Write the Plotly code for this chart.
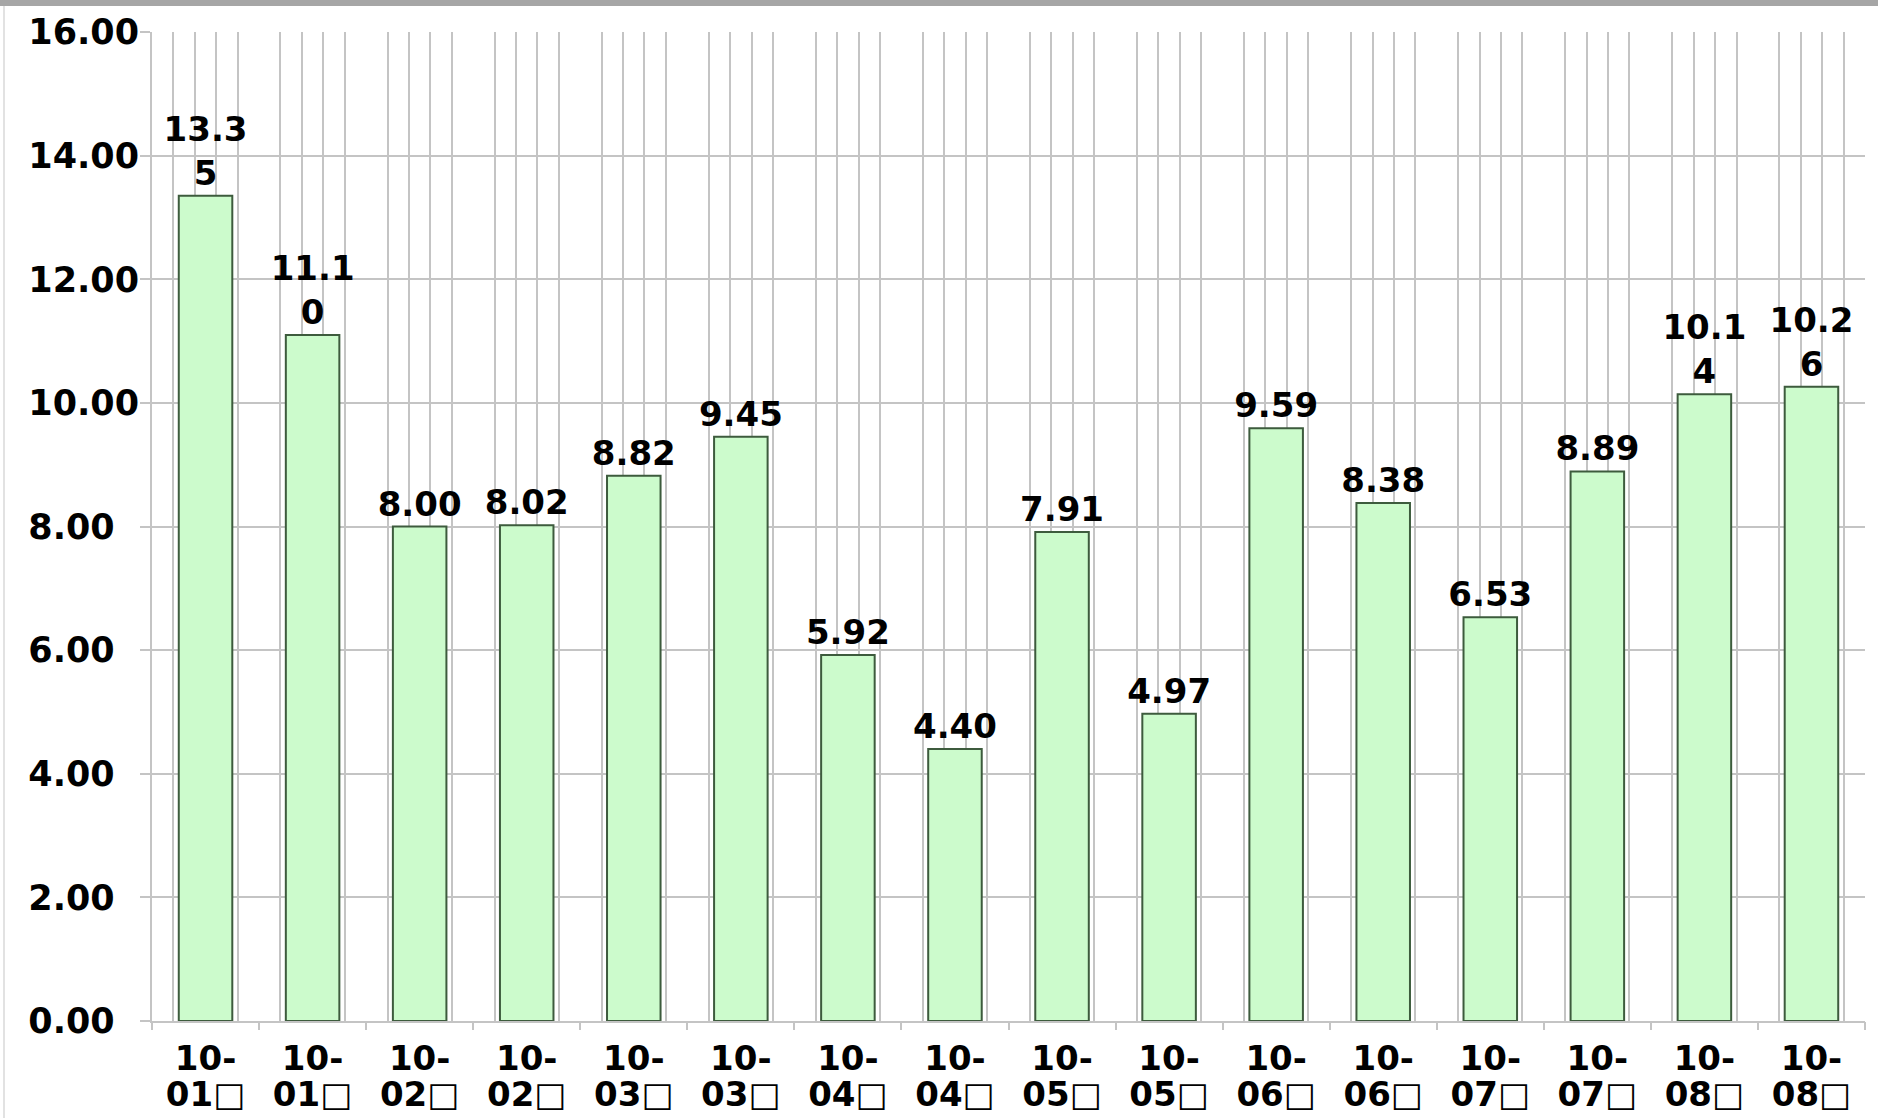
import plotly.graph_objects as go

# ---- data ----
categories = ["10-01□", "10-01□", "10-02□", "10-02□", "10-03□", "10-03□",
              "10-04□", "10-04□", "10-05□", "10-05□", "10-06□", "10-06□",
              "10-07□", "10-07□", "10-08□", "10-08□"]
values = [13.35, 11.10, 8.00, 8.02, 8.82, 9.45, 5.92, 4.40,
          7.91, 4.97, 9.59, 8.38, 6.53, 8.89, 10.14, 10.26]
y_ticks = [0, 2, 4, 6, 8, 10, 12, 14, 16]

# ---- derived text ----
def wrap_value(v):
    s = f"{v:.2f}"
    return s if len(s) <= 4 else s[:4] + "<br>" + s[4:]

bar_text = [wrap_value(v) for v in values]
x_line1 = [c.split("-")[0] + "-" for c in categories]
x_line2 = [c.split("-")[1] for c in categories]
y_ticktext = [f"{t:.2f}".ljust(5, "\u2007") for t in y_ticks]
xpos = list(range(len(categories)))

W, H = 1878, 1118
ML, MR, MT, MB = 152, 13, 32, 97
PW, PH = W - ML - MR, H - MT - MB

GRID = "#c4c4c4"
FONT = dict(family="DejaVu Sans", size=34, color="black", weight="bold")
YFONT = dict(family="DejaVu Sans", size=35, color="black", weight="bold")
xrange_ = [-0.5, len(categories) - 0.5]

fig = go.Figure()
fig.add_trace(go.Bar(
    x=xpos, y=values, text=bar_text, textposition="outside",
    textfont=FONT, constraintext="none", cliponaxis=False,
    marker=dict(color="#ccfbcc", line=dict(color="#3d5b3d", width=2)),
    hoverinfo="skip",
))
fig.add_trace(go.Scatter(x=[], y=[], xaxis="x2", yaxis="y", showlegend=False))
fig.add_trace(go.Scatter(x=[], y=[], xaxis="x3", yaxis="y", showlegend=False))

fig.update_layout(
    width=W, height=H,
    margin=dict(l=ML, r=MR, t=MT, b=MB, autoexpand=False),
    paper_bgcolor="white", plot_bgcolor="white",
    showlegend=False, bargap=0.5,
    xaxis=dict(range=xrange_, tickvals=xpos, ticktext=x_line1,
               showgrid=False, zeroline=False, ticks="", tickfont=FONT,
               ticklabelstandoff=6,
               showline=True, linecolor=GRID, linewidth=2, automargin=False),
    xaxis3=dict(overlaying="x", anchor="y", side="bottom",
                range=xrange_, tickvals=xpos, ticktext=x_line2,
                showgrid=False, zeroline=False, ticks="", tickfont=FONT,
                ticklabelstandoff=50, showline=False, automargin=False),
    xaxis2=dict(overlaying="x", anchor="y", side="bottom",
                range=[0, len(categories)], tick0=0, dtick=1,
                ticks="outside", ticklen=8, tickwidth=2, tickcolor=GRID,
                showticklabels=False, showgrid=False, zeroline=False,
                minor=dict(dtick=0.2, showgrid=True, gridcolor=GRID, gridwidth=2, ticks="")),
    yaxis=dict(range=[0, 16], tickvals=y_ticks, ticktext=y_ticktext,
               showgrid=True, gridcolor=GRID, gridwidth=2,
               ticks="outside", ticklen=10, tickwidth=2, tickcolor=GRID,
               ticklabelstandoff=-6,
               showline=True, linecolor=GRID, linewidth=2, zeroline=False,
               tickfont=YFONT, automargin=False),
    shapes=[
        dict(type="rect", xref="paper", yref="paper",
             x0=-ML / PW, x1=1 + MR / PW, y0=1 + (MT - 6) / PH, y1=1 + MT / PH,
             fillcolor="#a6a6a6", line=dict(width=0), layer="above"),
        dict(type="line", xref="paper", yref="paper",
             x0=(4 - ML) / PW, x1=(4 - ML) / PW, y0=-MB / PH, y1=1 + (MT - 6) / PH,
             line=dict(color="#e2e2e2", width=2)),
    ],
)

fig.write_html("out.html", config={"displayModeBar": False},
               post_script="document.body.style.margin='0';")
